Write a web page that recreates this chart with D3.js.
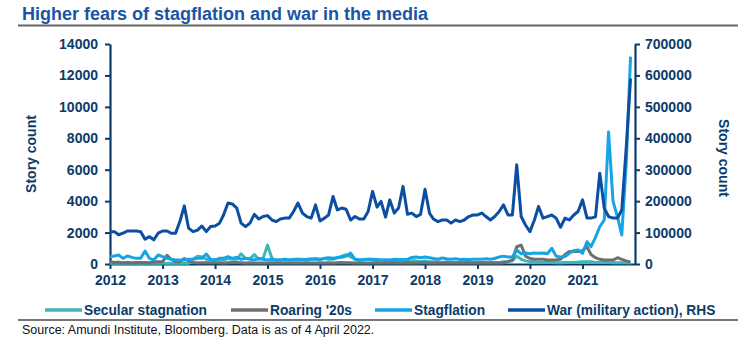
<!DOCTYPE html>
<html>
<head>
<meta charset="utf-8">
<script src="https://cdn.jsdelivr.net/npm/d3@7"></script>
<style>
	body { margin: 0; background: #fff; }
	#chart { width: 750px; height: 350px; }
	text { font-family: "Liberation Sans", Arial, sans-serif; }
</style>
</head>
<body>
<div id="chart"></div>
<script>
// ----------------------------------
// DATA (monthly, Jan 2012 - Dec 2021)
// ----------------------------------

const startMonth = '2012-01';

const seriesNames = ['Secular stagnation', "Roaring '20s", 'Stagflation', 'War (military action), RHS'];

const secularStagnation = [
	40, 40, 40, 40, 40, 40, 40, 40, 40, 40, 40, 40,
	40, 40, 40, 40, 40, 40, 40, 300, 500, 450, 300, 250,
	250, 300, 250, 350, 300, 300, 650, 350, 350, 600, 300, 350,
	1200, 350, 250, 250, 300, 250, 300, 300, 300, 250, 300, 350,
	300, 350, 300, 300, 400, 500, 600, 450, 300, 250, 250, 300,
	250, 200, 250, 200, 200, 150, 200, 200, 150, 200, 200, 150,
	200, 150, 150, 150, 100, 150, 100, 100, 100, 100, 100, 100,
	100, 100, 100, 100, 100, 100, 150, 150, 200, 500, 300, 200,
	150, 150, 100, 100, 100, 100, 80, 80, 100, 100, 100, 120,
	150, 150, 150, 100, 100, 100, 100, 80, 80, 80, 100, 60
];

const roaringTwenties = [
	150, 100, 120, 80, 100, 80, 100, 100, 100, 80, 120, 150,
	150, 550, 300, 150, 150, 350, 200, 100, 80, 80, 80, 80,
	80, 80, 60, 80, 100, 100, 80, 60, 80, 60, 60, 60,
	60, 80, 60, 60, 80, 60, 60, 80, 60, 80, 60, 60,
	80, 60, 80, 60, 80, 100, 80, 80, 60, 80, 60, 60,
	60, 80, 60, 60, 60, 80, 60, 60, 80, 60, 60, 80,
	80, 60, 60, 60, 60, 80, 60, 60, 60, 60, 80, 60,
	60, 80, 60, 60, 60, 60, 80, 150, 250, 1100, 1200, 500,
	350, 300, 300, 300, 250, 250, 250, 300, 600, 800, 800, 800,
	850, 1100, 600, 400, 300, 250, 250, 250, 400, 300, 200, 120
];

const stagflation = [
	466, 509, 572, 360, 509, 424, 360, 360, 827, 360, 254, 572,
	466, 360, 297, 254, 254, 254, 297, 297, 360, 360, 636, 297,
	254, 360, 360, 466, 360, 424, 297, 360, 297, 254, 360, 297,
	254, 297, 254, 254, 297, 254, 254, 297, 254, 300, 320, 300,
	280, 360, 400, 360, 400, 424, 500, 700, 300, 250, 280, 300,
	300, 280, 260, 270, 250, 300, 280, 290, 300, 420, 440, 400,
	450, 400, 350, 300, 380, 330, 300, 330, 280, 300, 280, 300,
	300, 300, 330, 300, 350, 450, 500, 450, 450, 890, 650, 700,
	650, 700, 680, 700, 650, 1000, 500, 450, 480, 680, 850, 890,
	680, 1420, 1100, 1700, 2370, 2800, 8400, 4000, 3000, 1850, 6400, 13200
];

const warRHS = [
	103000, 103000, 93000, 98000, 105000, 105000, 105000, 103000, 79000, 87000, 77000, 98000,
	105000, 105000, 98000, 98000, 135000, 185000, 114000, 103000, 108000, 121000, 103000, 119000,
	121000, 130000, 156000, 194000, 191000, 178000, 130000, 119000, 130000, 158000, 143000, 151000,
	154000, 140000, 135000, 143000, 146000, 146000, 167000, 194000, 162000, 151000, 146000, 188000,
	137000, 146000, 156000, 215000, 172000, 178000, 174000, 140000, 151000, 143000, 143000, 167000,
	231000, 181000, 199000, 149000, 204000, 162000, 178000, 247000, 158000, 162000, 151000, 158000,
	238000, 162000, 143000, 135000, 140000, 140000, 130000, 140000, 135000, 140000, 151000, 156000,
	156000, 162000, 151000, 140000, 151000, 167000, 188000, 156000, 156000, 316000, 151000, 124000,
	103000, 140000, 183000, 146000, 151000, 156000, 146000, 117000, 146000, 140000, 156000, 167000,
	204000, 146000, 146000, 150000, 289000, 178000, 151000, 146000, 146000, 172000, 370000, 590000
];

const leftTicks = [0, 2000, 4000, 6000, 8000, 10000, 12000, 14000];
const rightTicks = [0, 100000, 200000, 300000, 400000, 500000, 600000, 700000];
const yearTicks = ['2012', '2013', '2014', '2015', '2016', '2017', '2018', '2019', '2020', '2021'];

const titleText = 'Higher fears of stagflation and war in the media';
const sourceText = 'Source: Amundi Institute, Bloomberg. Data is as of 4 April 2022.';
const axisTitle = 'Story count';

// ----------------------------------
// SETUP
// ----------------------------------

const width = 750,
	height = 350,
	margin = {top: 44, right: 115, bottom: 86, left: 110},
	innerWidth = width - margin.left - margin.right,
	innerHeight = height - margin.top - margin.bottom;

const navy = '#0d3b69',
	colors = ['#3cb6b7', '#6f6f6f', '#17a4e4', '#0b4ea2'];

const parseMonth = d3.timeParse('%Y-%m');
const start = parseMonth(startMonth);
const months = secularStagnation.map((d, i) => d3.timeMonth.offset(start, i));

const x = d3.scaleTime()
	.domain([start, parseMonth('2022-01')])
	.range([0, innerWidth]);

const yLeft = d3.scaleLinear()
	.domain([0, 14000])
	.range([innerHeight, 0]);

const yRight = d3.scaleLinear()
	.domain([0, 700000])
	.range([innerHeight, 0]);

const svg = d3.select('#chart')
	.append('svg')
	.attr('width', width)
	.attr('height', height);

// ----------------------------------
// TITLE
// ----------------------------------

svg.append('text')
	.attr('x', 22)
	.attr('y', 20)
	.attr('font-size', 18)
	.attr('font-weight', 'bold')
	.attr('fill', '#1a55a5')
	.text(titleText);

svg.append('line')
	.attr('x1', 18).attr('x2', 738)
	.attr('y1', 25.5).attr('y2', 25.5)
	.style('stroke', '#666')
	.style('stroke-width', 2);

// ----------------------------------
// AXES
// ----------------------------------

const chartInner = svg.append('g')
	.attr('transform', `translate(${margin.left},${margin.top})`);

// font set on the axis group itself so d3's default 10px doesn't linger
function styleAxis(g){
	g.attr('font-size', 14)
		.attr('font-weight', 'bold')
		.attr('font-family', '"Liberation Sans", Arial, sans-serif');
	g.select('.domain').style('stroke', navy).style('stroke-width', 2.2);
	g.selectAll('.tick line').style('stroke', navy).style('stroke-width', 2);
	g.selectAll('.tick text').attr('fill', navy);
}

chartInner.append('g')
	.attr('transform', `translate(0,${innerHeight})`)
	.call(d3.axisBottom(x)
		.tickValues(yearTicks.map(d => d3.timeParse('%Y')(d)))
		.tickFormat(d3.timeFormat('%Y'))
		.tickSizeInner(5)
		.tickSizeOuter(0)
		.tickPadding(6))
	.call(styleAxis);

chartInner.append('g')
	.call(d3.axisLeft(yLeft)
		.tickValues(leftTicks)
		.tickFormat(d3.format('d'))
		.tickSizeInner(5)
		.tickSizeOuter(0)
		.tickPadding(7))
	.call(styleAxis);

chartInner.append('g')
	.attr('transform', `translate(${innerWidth},0)`)
	.call(d3.axisRight(yRight)
		.tickValues(rightTicks)
		.tickFormat(d3.format('d'))
		.tickSizeInner(5)
		.tickSizeOuter(0)
		.tickPadding(5))
	.call(styleAxis);

svg.append('text')
	.attr('transform', `translate(36,${margin.top + innerHeight / 2}) rotate(-90)`)
	.attr('text-anchor', 'middle')
	.attr('font-size', 14)
	.attr('font-weight', 'bold')
	.attr('fill', navy)
	.text(axisTitle);

svg.append('text')
	.attr('transform', `translate(719,${margin.top + innerHeight / 2 + 4}) rotate(90)`)
	.attr('text-anchor', 'middle')
	.attr('font-size', 14)
	.attr('font-weight', 'bold')
	.attr('fill', navy)
	.text(axisTitle);

// ----------------------------------
// LINES
// ----------------------------------

const lineLeft = d3.line()
	.x((d, i) => x(months[i]))
	.y(d => yLeft(d));

const lineRight = d3.line()
	.x((d, i) => x(months[i]))
	.y(d => yRight(d));

const series = [
	{values: secularStagnation, line: lineLeft},
	{values: roaringTwenties, line: lineLeft},
	{values: stagflation, line: lineLeft},
	{values: warRHS, line: lineRight}
];

chartInner.selectAll('path.series')
	.data(series)
	.enter()
	.append('path')
	.classed('series', true)
	.attr('d', d => d.line(d.values))
	.style('fill', 'none')
	.style('stroke', (d, i) => colors[i])
	.style('stroke-width', 3)
	.style('stroke-linejoin', 'round');

// ----------------------------------
// LEGEND
// ----------------------------------

const legendX = [45, 231, 375, 508];

const legend = svg.selectAll('g.legend')
	.data(seriesNames)
	.enter()
	.append('g')
	.classed('legend', true)
	.attr('transform', (d, i) => `translate(${legendX[i]},310)`);

legend.append('line')
	.attr('x1', 0).attr('x2', 37)
	.attr('y1', 0).attr('y2', 0)
	.style('stroke', (d, i) => colors[i])
	.style('stroke-width', 3.5);

legend.append('text')
	.attr('x', 39)
	.attr('y', 5)
	.attr('font-size', 13.75)
	.attr('font-weight', 'bold')
	.attr('fill', navy)
	.text(d => d);

svg.append('line')
	.attr('x1', 18).attr('x2', 738)
	.attr('y1', 320).attr('y2', 320)
	.style('stroke', '#777')
	.style('stroke-width', 2);

svg.append('text')
	.attr('x', 22)
	.attr('y', 334)
	.attr('font-size', 12.5)
	.attr('fill', '#111')
	.text(sourceText);
</script>
</body>
</html>
